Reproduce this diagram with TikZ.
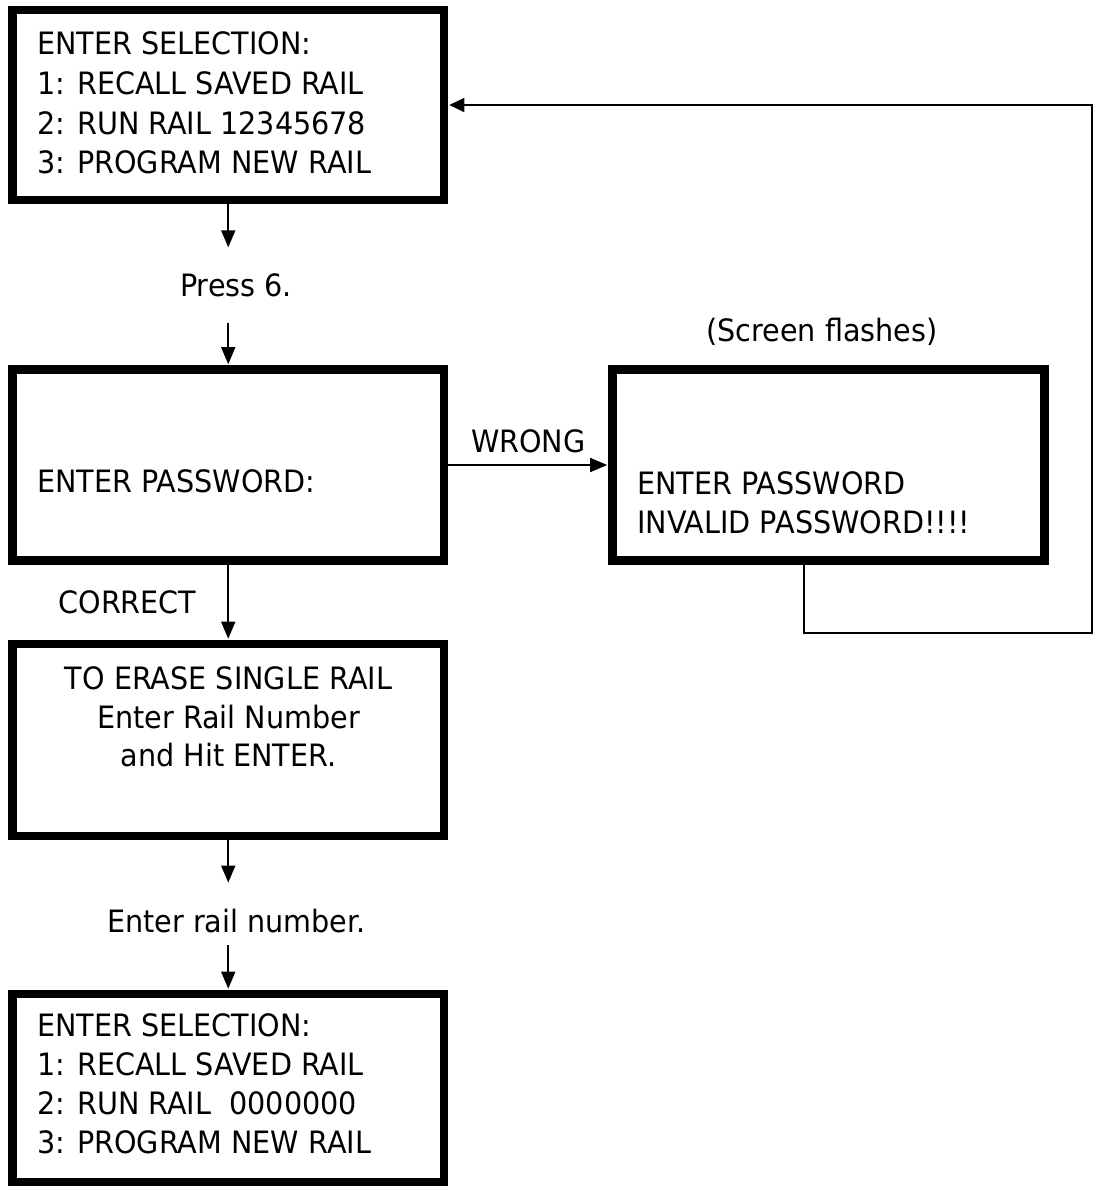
\documentclass[tikz,border=0pt]{standalone}
\usepackage{fontspec}
\setmainfont{DejaVu Sans}[FakeStretch=0.93]
\usetikzlibrary{arrows.meta}
\begin{document}
\begin{tikzpicture}[x=1pt,y=-1pt,
  screen/.style={draw=black, line width=8.6pt, rectangle, inner sep=0pt,
    minimum width=431.5pt},
  txt/.style={inner sep=0pt, font=\fontsize{30.8}{39.2}\selectfont},
  lbl/.style={inner sep=0pt, font=\fontsize{30.8}{36}\selectfont},
  conn/.style={line width=1.6pt, -{Triangle[length=17pt,width=14pt]}},
  loopline/.style={line width=1.8pt, -{Triangle[length=15pt,width=14pt]}}]
\useasboundingbox (0,0) rectangle (1097,1186);
% boxes
\node[screen, minimum height=190pt] (b1) at (228.25,105) {};
\node[screen, minimum height=191pt] (b2) at (228.25,465) {};
\node[screen, minimum height=192pt] (b3) at (228.25,740) {};
\node[screen, minimum width=432pt, minimum height=191pt] (b4) at (828.5,465) {};
\node[screen, minimum height=188pt] (b5) at (228.25,1088) {};
% box texts
\node[txt, align=left, anchor=north west, font=\fontsize{30.8}{39.6}\selectfont] (t1) at (37,31.9)
  {ENTER SELECTION:\\1: RECALL SAVED RAIL\\2: RUN RAIL 12345678\\3: PROGRAM NEW RAIL};
\node[txt, anchor=north west] (t2) at (37,469.8) {ENTER PASSWORD:};
\node[txt, align=center, anchor=north, font=\fontsize{30.8}{38.5}\selectfont] (t3) at (228.5,666.8)
  {TO ERASE SINGLE RAIL\\Enter Rail Number\\and Hit ENTER.};
\node[txt, align=left, anchor=north west, font=\fontsize{30.8}{38.5}\selectfont] (t4) at (637,471.8)
  {ENTER PASSWORD\\INVALID PASSWORD!!!!};
\node[txt, align=left, anchor=north west, font=\fontsize{30.8}{38.9}\selectfont] (t5) at (37,1013.4)
  {ENTER SELECTION:\\1: RECALL SAVED RAIL\\2: RUN RAIL~ 0000000\\3: PROGRAM NEW RAIL};
% free labels
\node[lbl] (press) at (236,285) {Press 6.};
\node[lbl] (railnum) at (236.5,921) {Enter rail number.};
\node[lbl] (flash) at (822,332) {(Screen flashes)};
% loop corners
\coordinate (r1) at (804,633);
\coordinate (r2) at (1092,105);
% connectors
\draw[conn, shorten >=25.8pt] (b1.south) -- (b1.south |- press.north);
\draw[conn, shorten <=25.8pt, shorten >=1pt] (press.south -| b2.north) -- (b2.north);
\draw[conn, shorten >=1pt] (b2) -- node[midway, left=31pt, lbl] (correct) {CORRECT} (b3);
\draw[conn, shorten >=26.3pt] (b3.south) -- (b3.south |- railnum.north);
\draw[conn, shorten <=12.3pt, shorten >=1pt] (railnum.south -| b5.north) -- (b5.north);
\draw[conn, shorten >=1pt] (b2) -- node[midway, above=11.5pt, lbl] (wrong) {WRONG} (b4);
\draw[loopline, shorten >=1pt] (b4.south -| r1) -- (r1) -| (r2) -- (b1.east);
\end{tikzpicture}
\end{document}
